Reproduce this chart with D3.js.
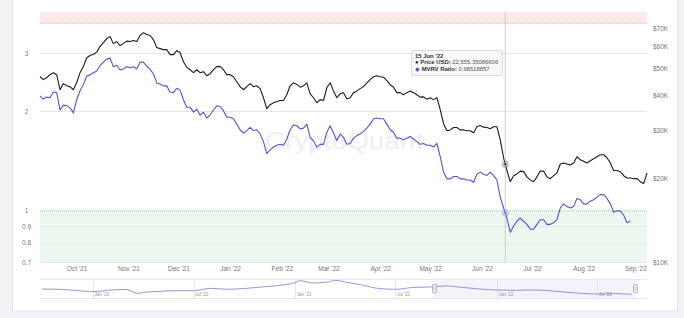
<!DOCTYPE html>
<html>
<head>
<meta charset="utf-8">
<script src="https://cdn.jsdelivr.net/npm/d3@7"></script>
<style>
  html, body { margin: 0; padding: 0; background: #f1f2f5; }
  #chart { width: 684px; height: 318px; }
  text { font-family: "Liberation Sans", Arial, Helvetica, sans-serif; }
</style>
</head>
<body>
<div id="chart"></div>
<script>
'use strict';

// one sample every 2 days from the start date
var startDate = '2021-09-09';
var stepDays = 2;

var priceUSD = [
  46700, 45600, 46300, 47500, 48300, 47500, 41900, 44100, 43300, 43000,
  41900, 44400, 48300, 50800, 54700, 55700, 56300, 57300, 60000, 62000,
  64100, 65200, 61500, 62600, 60500, 61500, 62800, 62600, 63100, 62600,
  65800, 67400, 66300, 65800, 63600, 59500, 59000, 58500, 58500, 56100,
  56100, 58000, 57100, 52900, 50600, 49500, 48300, 49500, 48300, 48700,
  47100, 47900, 49500, 50800, 50900, 49500, 47500, 47500, 46700, 44800,
  43000, 41900, 43000, 44100, 43000, 43300, 42300, 39200, 35800, 37000,
  37600, 38000, 38300, 38300, 40200, 43300, 44400, 43800, 42800, 43300,
  44400, 40500, 39200, 37600, 38600, 38300, 42600, 44400, 41500, 39200,
  40500, 40900, 38900, 39200, 40900, 41500, 42300, 43000, 44400, 45600,
  46700, 47100, 46700, 46500, 45200, 43700, 42800, 40900, 40900, 40200,
  40900, 41500, 40900, 40200, 39400, 39500, 38700, 39200, 38600, 39200,
  35500, 31600, 29800, 30000, 30600, 30600, 30000, 30000, 29800, 29800,
  29300, 30800, 31100, 30700, 30600, 30300, 30800, 30800, 27600, 23800,
  21400, 19500, 20500, 20800, 21300, 21200, 20300, 19800, 19500, 20300,
  21300, 21300, 20300, 20000, 20500, 21000, 22600, 22800, 22600, 22400,
  22800, 24000, 23400, 23100, 22800, 23200, 23600, 24000, 24400, 24400,
  23800, 22800, 21400, 21400, 21200, 20500, 20100, 20100, 20000, 20000,
  19500, 19200, 21000
];

var mvrvRatio = [
  2.23, 2.18, 2.21, 2.20, 2.29, 2.28, 2.02, 2.09, 2.08, 2.05,
  1.98, 2.17, 2.31, 2.41, 2.56, 2.58, 2.62, 2.65, 2.75, 2.82,
  2.88, 2.90, 2.73, 2.76, 2.67, 2.69, 2.73, 2.71, 2.73, 2.69,
  2.82, 2.82, 2.74, 2.68, 2.60, 2.44, 2.42, 2.39, 2.39, 2.29,
  2.28, 2.35, 2.32, 2.17, 2.06, 2.06, 1.99, 2.03, 1.95, 1.99,
  1.91, 1.95, 2.02, 2.08, 2.07, 2.01, 1.92, 1.92, 1.90, 1.83,
  1.76, 1.72, 1.75, 1.79, 1.75, 1.76, 1.71, 1.62, 1.49, 1.53,
  1.56, 1.58, 1.59, 1.58, 1.65, 1.76, 1.82, 1.81, 1.77, 1.78,
  1.83, 1.67, 1.63, 1.56, 1.59, 1.59, 1.73, 1.81, 1.72, 1.63,
  1.71, 1.67, 1.59, 1.60, 1.66, 1.69, 1.71, 1.74, 1.78, 1.83,
  1.90, 1.91, 1.90, 1.90, 1.83, 1.76, 1.73, 1.66, 1.66, 1.64,
  1.66, 1.68, 1.65, 1.62, 1.59, 1.60, 1.58, 1.58, 1.56, 1.60,
  1.46, 1.31, 1.25, 1.25, 1.27, 1.27, 1.25, 1.25, 1.24, 1.24,
  1.22, 1.29, 1.31, 1.29, 1.28, 1.31, 1.28, 1.24, 1.10, 1.02,
  0.95, 0.86, 0.90, 0.93, 0.95, 0.93, 0.91, 0.88, 0.88, 0.91,
  0.94, 0.94, 0.91, 0.91, 0.92, 0.94, 1.02, 1.05, 1.03, 1.02,
  1.03, 1.09, 1.08, 1.05, 1.05, 1.07, 1.08, 1.10, 1.12, 1.12,
  1.09, 1.05, 0.99, 1.00, 1.00, 0.97, 0.92, 0.93
];

var mvrvTicks = [0.7, 0.8, 0.9, 1, 2, 3];
var priceTicks = [10000, 20000, 30000, 40000, 50000, 60000, 70000];

var overvaluedLevel = 3.7;
var undervaluedLevel = 1;

var hoverDate = '2022-06-15';
var hoverPrice = 22555.35086606;
var hoverMvrv = 0.98518857;

// navigator (full history)
var navDates = [
  '2019-10-01', '2019-11-01', '2019-12-01', '2020-01-01', '2020-02-01', '2020-03-01',
  '2020-03-22', '2020-04-01', '2020-05-01', '2020-06-01', '2020-07-01', '2020-08-01',
  '2020-09-01', '2020-10-01', '2020-11-01', '2020-12-01', '2021-01-01', '2021-01-10',
  '2021-02-01', '2021-03-01', '2021-03-15', '2021-04-01', '2021-05-01', '2021-06-01',
  '2021-07-01', '2021-08-01', '2021-09-01', '2021-10-01', '2021-11-01', '2021-12-01',
  '2022-01-01', '2022-02-01', '2022-03-01', '2022-04-01', '2022-05-01', '2022-06-01',
  '2022-07-01', '2022-08-01', '2022-09-01'
];
var navMvrv = [
  1.89, 1.83, 1.58, 1.33, 1.68, 1.79,
  0.99, 1.16, 1.41, 1.54, 1.54, 2.04,
  1.83, 2.00, 2.32, 2.63, 3.26, 3.64,
  3.16, 3.37, 3.73, 3.37, 2.74, 2.00,
  1.83, 2.21, 2.32, 2.53, 2.21, 1.89,
  1.68, 1.62, 1.68, 1.58, 1.26, 0.99,
  0.84, 0.91, 0.78
];
var navTicks = ['2020-01-01', '2020-07-01', '2021-01-01', '2021-07-01', '2022-01-01', '2022-07-01'];

var parse = d3.utcParse('%Y-%m-%d');

function Chart(el) {
  this.el = el;
  this.plot = {left: 40, right: 647, top: 12, bottom: 262};
  this.nav = {top: 279, bottom: 298};
  this.init();
}

Chart.prototype.init = function() {
  var p = this.plot;
  var t0 = parse(startDate);

  this.prices = priceUSD.map(function(v, i) {
    return {date: d3.utcDay.offset(t0, i * stepDays), value: v};
  });
  this.mvrv = mvrvRatio.map(function(v, i) {
    return {date: d3.utcDay.offset(t0, i * stepDays), value: v};
  });

  this.x = d3.scaleUtc().domain([t0, parse('2022-09-08')]).range([p.left, p.right]);
  this.yL = d3.scaleLog().domain([0.7, 4]).range([p.bottom, p.top]);
  this.yR = d3.scaleLog().domain([10000, 80000]).range([p.bottom, p.top]);

  this.svg = d3.select(this.el).append('svg')
    .attr('width', 684)
    .attr('height', 318);

  // card
  this.svg.append('rect')
    .attr('x', 12.5).attr('y', -6)
    .attr('width', 665).attr('height', 317)
    .attr('fill', '#fff')
    .attr('stroke', '#e3e4e9');

  this.drawBands();
  this.drawAxes();
  this.drawWatermark();
  this.drawSeries();
  this.drawHover();
  this.drawNavigator();
};

Chart.prototype.drawBands = function() {
  var p = this.plot, yL = this.yL, g = this.svg.append('g');

  g.append('rect')
    .attr('x', p.left).attr('y', p.top)
    .attr('width', p.right - p.left).attr('height', yL(overvaluedLevel) - p.top)
    .attr('fill', '#fdeaea');
  g.append('rect')
    .attr('x', p.left).attr('y', yL(undervaluedLevel))
    .attr('width', p.right - p.left).attr('height', p.bottom - yL(undervaluedLevel))
    .attr('fill', '#ecf7ef');

  g.selectAll('.grid')
    .data(mvrvTicks.filter(function(d) { return d !== undervaluedLevel; }))
    .enter().append('line')
      .attr('class', 'grid')
      .attr('x1', p.left).attr('x2', p.right)
      .attr('y1', function(d) { return Math.round(yL(d)) + 0.5; })
      .attr('y2', function(d) { return Math.round(yL(d)) + 0.5; })
      .attr('stroke', '#e6e6e6');

  g.append('line')
    .attr('x1', p.left).attr('x2', p.right)
    .attr('y1', yL(overvaluedLevel)).attr('y2', yL(overvaluedLevel))
    .attr('stroke', '#e8a3a3').attr('stroke-dasharray', '1,1');
  g.append('line')
    .attr('x1', p.left).attr('x2', p.right)
    .attr('y1', yL(undervaluedLevel)).attr('y2', yL(undervaluedLevel))
    .attr('stroke', '#93cfa2').attr('stroke-dasharray', '1,1');
};

Chart.prototype.drawAxes = function() {
  var left = this.svg.append('g')
    .attr('transform', 'translate(26.5,0)')
    .call(d3.axisLeft(this.yL).tickValues(mvrvTicks).tickFormat(d3.format('~g')).tickSize(0).tickPadding(0));

  var right = this.svg.append('g')
    .attr('transform', 'translate(653,0)')
    .call(d3.axisRight(this.yR).tickValues(priceTicks)
      .tickFormat(function(d) { return '$' + (d / 1000) + 'K'; }).tickSize(0).tickPadding(0));

  var bottom = this.svg.append('g')
    .attr('transform', 'translate(0,266)')
    .call(d3.axisBottom(this.x).ticks(d3.utcMonth.every(1))
      .tickFormat(d3.utcFormat("%b '%y")).tickSize(0).tickPadding(0));

  [left, right, bottom].forEach(function(a) {
    a.select('.domain').remove();
    a.selectAll('text')
      .attr('fill', '#777')
      .style('font-size', '6.5px')
      .style('font-family', '"Liberation Sans", Arial, sans-serif');
  });
  left.selectAll('text').attr('text-anchor', 'middle');
};

Chart.prototype.drawWatermark = function() {
  this.svg.append('text')
    .attr('x', 265).attr('y', 149)
    .attr('textLength', 158)
    .attr('lengthAdjust', 'spacingAndGlyphs')
    .attr('fill', '#eeeef3')
    .style('font-size', '24px')
    .text('CryptoQuant');
};

Chart.prototype.drawSeries = function() {
  var x = this.x, yL = this.yL, yR = this.yR;

  this.svg.append('path')
    .datum(this.prices)
    .attr('fill', 'none')
    .attr('stroke', '#1b1b1b')
    .attr('stroke-width', 1.1)
    .attr('stroke-linejoin', 'round')
    .attr('d', d3.line()
      .x(function(d) { return x(d.date); })
      .y(function(d) { return yR(d.value); }));

  this.svg.append('path')
    .datum(this.mvrv)
    .attr('fill', 'none')
    .attr('stroke', '#5a4fcb')
    .attr('stroke-width', 1.1)
    .attr('stroke-linejoin', 'round')
    .attr('d', d3.line()
      .x(function(d) { return x(d.date); })
      .y(function(d) { return yL(d.value); }));
};

Chart.prototype.drawHover = function() {
  var p = this.plot;
  var hx = this.x(parse(hoverDate));
  var g = this.svg.append('g');

  g.append('line')
    .attr('x1', hx).attr('x2', hx)
    .attr('y1', p.top).attr('y2', p.bottom)
    .attr('stroke', '#cfcfcf');

  var points = [
    {y: this.yR(hoverPrice), color: '#1b1b1b'},
    {y: this.yL(hoverMvrv), color: '#5a4fcb'}
  ];
  points.forEach(function(d) {
    g.append('circle').attr('cx', hx).attr('cy', d.y).attr('r', 3.6)
      .attr('fill', d.color).attr('fill-opacity', 0.25);
    g.append('circle').attr('cx', hx).attr('cy', d.y).attr('r', 1.4)
      .attr('fill', d.color).attr('stroke', '#fff').attr('stroke-width', 0.5);
  });

  // tooltip
  var tip = this.svg.append('g').attr('transform', 'translate(411.5,50.5)');
  var box = tip.append('rect')
    .attr('rx', 1.5)
    .attr('fill', 'rgba(247,247,247,0.9)')
    .attr('stroke', '#c4c4c4')
    .attr('stroke-width', 0.6);

  var fs = '5.9px';
  tip.append('text').attr('x', 3.5).attr('y', 7)
    .style('font-size', fs).style('font-weight', 'bold').attr('fill', '#333')
    .text(d3.utcFormat("%-d %b '%y")(parse(hoverDate)));

  var rows = [
    {sym: '\u25CF', color: '#1b1b1b', label: 'Price USD', value: d3.format(',.8f')(hoverPrice)},
    {sym: '\u25C6', color: '#5a4fcb', label: 'MVRV Ratio', value: String(hoverMvrv)}
  ];
  rows.forEach(function(r, i) {
    var t = tip.append('text').attr('x', 3.5).attr('y', 13.6 + i * 6.6)
      .style('font-size', fs).attr('fill', '#333');
    t.append('tspan').attr('fill', r.color).text(r.sym + ' ');
    t.append('tspan').style('font-weight', 'bold').text(r.label + ':');
    t.append('tspan').attr('fill', '#555').text(' ' + r.value);
  });

  var bb = tip.node().getBBox();
  box.attr('x', 0).attr('y', 0).attr('width', bb.width + 7).attr('height', 25);
};

Chart.prototype.drawNavigator = function() {
  var p = this.plot, n = this.nav;
  var g = this.svg.append('g');

  var xn = d3.scaleUtc().domain([parse('2019-09-27'), parse('2022-09-29')]).range([p.left, p.right]);
  var yn = d3.scaleLinear().domain([0, 4]).range([n.bottom, n.top]);

  var x0 = xn(this.x.domain()[0]), x1 = xn(this.x.domain()[1]);

  g.append('rect')
    .attr('x', x0).attr('y', n.top)
    .attr('width', x1 - x0).attr('height', n.bottom - n.top)
    .attr('fill', 'rgba(102,110,194,0.08)');

  g.selectAll('.navgrid')
    .data(navTicks.map(parse))
    .enter().append('line')
      .attr('x1', function(d) { return Math.round(xn(d)) + 0.5; })
      .attr('x2', function(d) { return Math.round(xn(d)) + 0.5; })
      .attr('y1', n.top).attr('y2', n.bottom)
      .attr('stroke', '#e6e6e6');

  g.selectAll('.navlabel')
    .data(navTicks.map(parse))
    .enter().append('text')
      .attr('x', function(d) { return xn(d) + 1.5; })
      .attr('y', n.bottom - 2)
      .attr('fill', '#999')
      .style('font-size', '4.6px')
      .text(d3.utcFormat("%b '%y"));

  [n.top, n.bottom].forEach(function(yy) {
    g.append('line')
      .attr('x1', p.left).attr('x2', p.right)
      .attr('y1', yy + 0.5).attr('y2', yy + 0.5)
      .attr('stroke', '#e8e8ec');
  });

  var navData = navDates.map(function(d, i) { return {date: parse(d), value: navMvrv[i]}; });
  g.append('path')
    .datum(navData)
    .attr('fill', 'none')
    .attr('stroke', '#8079d4')
    .attr('stroke-width', 0.8)
    .attr('d', d3.line()
      .curve(d3.curveMonotoneX)
      .x(function(d) { return xn(d.date); })
      .y(function(d) { return yn(d.value); }));

  [x0, x1].forEach(function(hx) {
    var cx = Math.round(hx) + 0.5, cy = (n.top + n.bottom) / 2;
    g.append('rect')
      .attr('x', cx - 2).attr('y', cy - 4)
      .attr('width', 4).attr('height', 8)
      .attr('rx', 0.5)
      .attr('fill', '#f2f2f2').attr('stroke', '#999').attr('stroke-width', 0.6);
    [-0.7, 0.7].forEach(function(o) {
      g.append('line')
        .attr('x1', cx + o).attr('x2', cx + o)
        .attr('y1', cy - 2).attr('y2', cy + 2)
        .attr('stroke', '#999').attr('stroke-width', 0.4);
    });
  });
};

var chart = new Chart('#chart');
</script>
</body>
</html>
